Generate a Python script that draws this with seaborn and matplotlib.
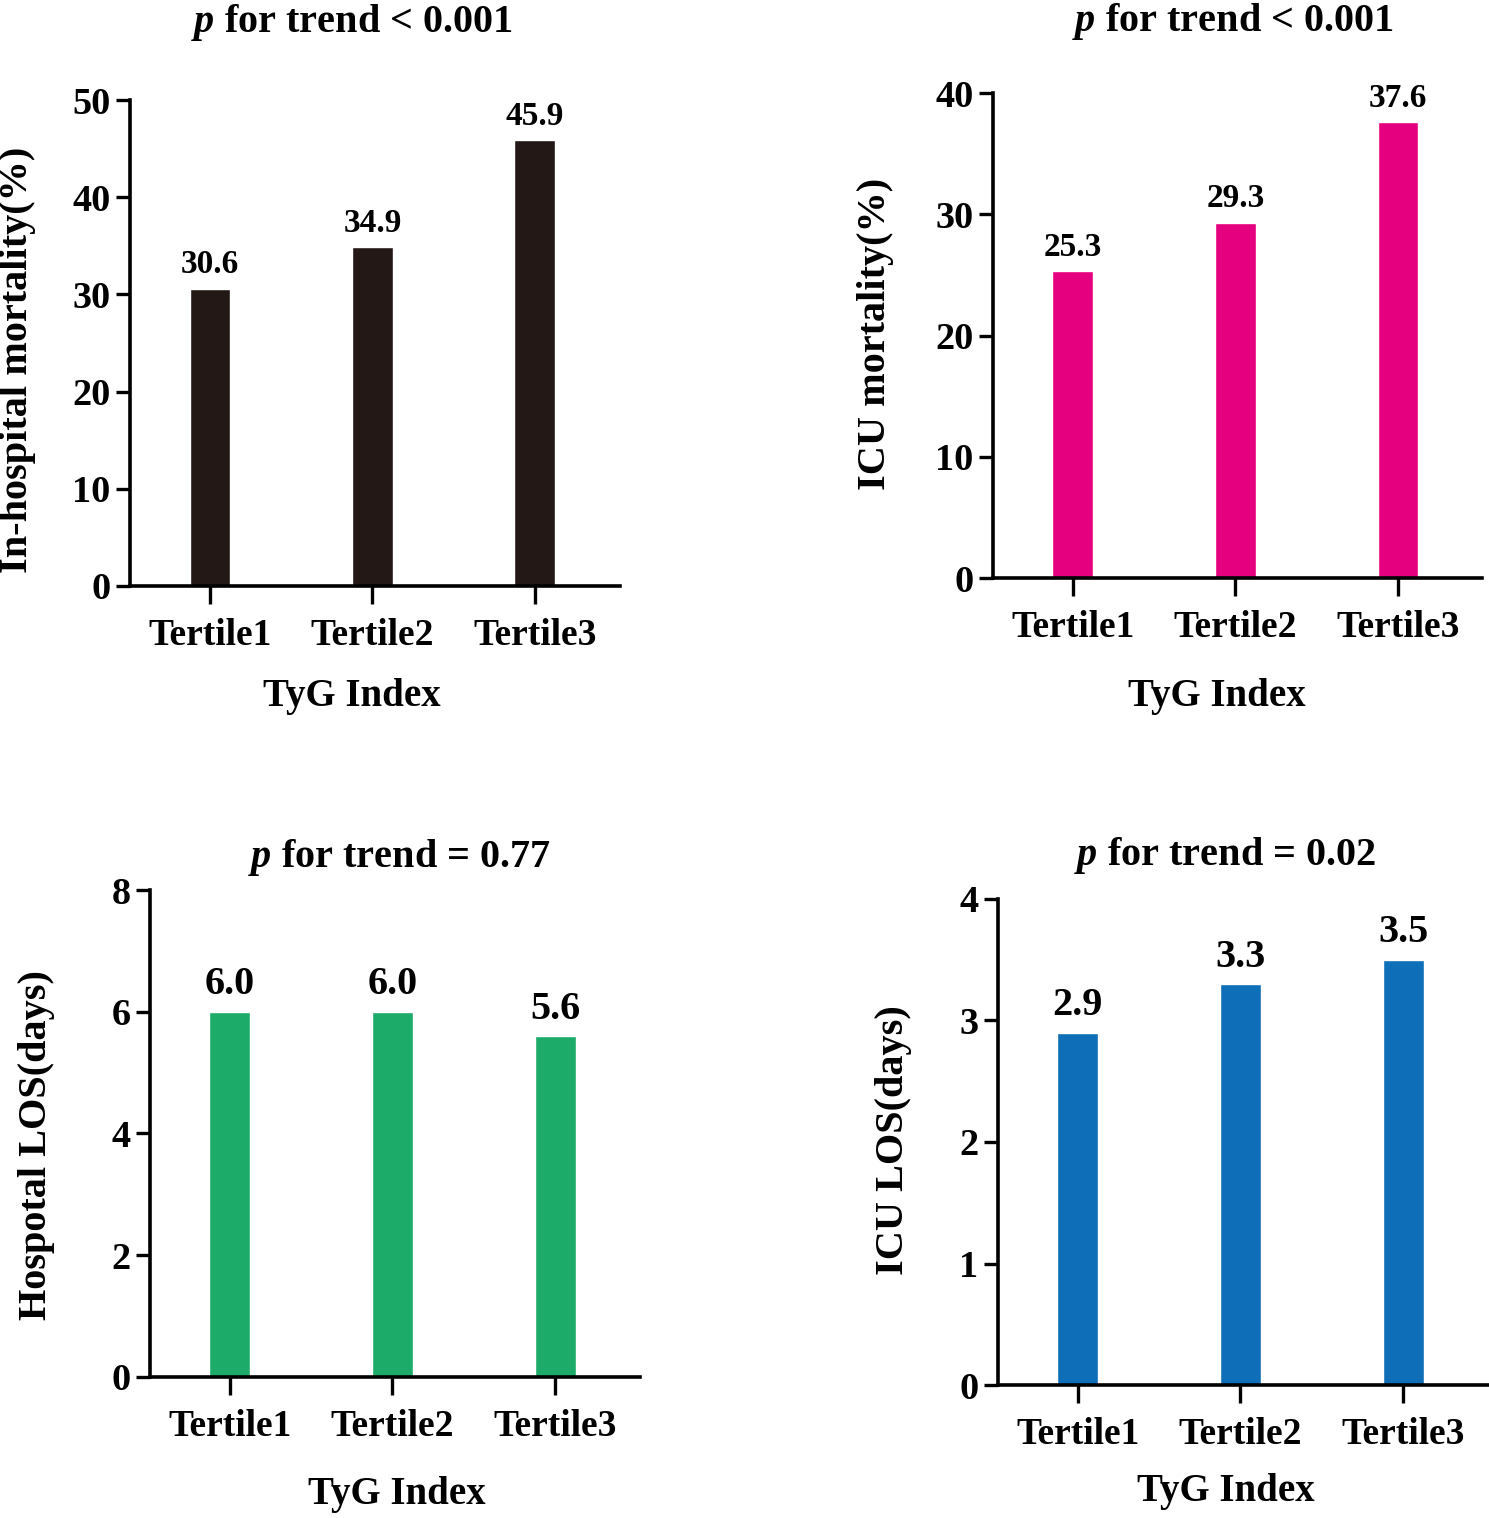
import numpy as np
import pandas as pd
import matplotlib
matplotlib.use("Agg")
import matplotlib.pyplot as plt
import seaborn as sns

tertiles = ["Tertile1", "Tertile2", "Tertile3"]

inhosp_mort = [30.6, 34.9, 45.9]
icu_mort = [25.3, 29.3, 37.6]
hosp_los = [6.0, 6.0, 5.6]
icu_los = [2.9, 3.3, 3.5]

ptexts = ["< 0.001", "< 0.001", "= 0.77", "= 0.02"]
ylabels = ["In-hospital mortality(%)", "ICU mortality(%)",
           "Hospotal LOS(days)", "ICU LOS(days)"]
colors = ["#231815", "#e4007f", "#1dab6a", "#0e6eb8"]

sns.set_theme(style="ticks")
plt.rcParams['font.family'] = ['Liberation Serif', 'DejaVu Serif']
plt.rcParams['font.weight'] = 'bold'
plt.rcParams['text.color'] = 'black'
plt.rcParams['axes.labelcolor'] = 'black'
plt.rcParams['xtick.color'] = 'black'
plt.rcParams['ytick.color'] = 'black'
plt.rcParams['mathtext.fontset'] = 'custom'
plt.rcParams['mathtext.it'] = 'Liberation Serif:italic:bold'
plt.rcParams['mathtext.rm'] = 'Liberation Serif:bold'

fig = plt.figure(figsize=(14.89, 15.18), dpi=100)

# axes rect in figure fraction, label spots in axes fraction
panels = [
    dict(rect=[0.0873, 0.614, 0.329, 0.320], vals=inhosp_mort, ymax=50, step=10,
         xlim=(-0.494, 2.525), title=(0.453, 1.16), ylab=(-0.229, 0.465),
         xlab=(0.453, -0.228), vsize=24),
    dict(rect=[0.6669, 0.6192, 0.3284, 0.3195], vals=icu_mort, ymax=40, step=10,
         xlim=(-0.49, 2.517), title=(0.491, 1.147), ylab=(-0.241, 0.503),
         xlab=(0.458, -0.245), vsize=24),
    dict(rect=[0.1007, 0.0929, 0.329, 0.3208], vals=hosp_los, ymax=8, step=2,
         xlim=(-0.49, 2.52), title=(0.51, 1.066), ylab=(-0.231, 0.476),
         xlab=(0.504, -0.242), vsize=29),
    dict(rect=[0.6702, 0.0876, 0.329, 0.3202], vals=icu_los, ymax=4, step=1,
         xlim=(-0.49, 2.52), title=(0.463, 1.09), ylab=(-0.214, 0.504),
         xlab=(0.465, -0.22), vsize=29),
]

for i, p in enumerate(panels):
    ax = fig.add_axes(p["rect"])
    df = pd.DataFrame({"group": tertiles, "value": p["vals"]})
    sns.barplot(data=df, x="group", y="value", color=colors[i], saturation=1,
                width=0.25, ax=ax)
    ax.bar_label(ax.containers[0], fmt="%.1f", padding=6,
                 fontsize=p["vsize"], fontweight='bold')
    ax.set_xlim(*p["xlim"])
    ax.set_ylim(0, p["ymax"])
    ax.set_yticks(np.arange(0, p["ymax"] + p["step"] / 2, p["step"]))
    sns.despine(ax=ax)
    for s in ["left", "bottom"]:
        ax.spines[s].set_linewidth(2.6)
        ax.spines[s].set_color("black")
    ax.tick_params(axis="y", length=10, width=2.4, labelsize=27.5, pad=4)
    ax.tick_params(axis="x", length=13, width=2.4, labelsize=27, pad=10)
    for lab in ax.get_xticklabels() + ax.get_yticklabels():
        lab.set_fontweight('bold')
    ax.set_xlabel("TyG Index", fontsize=28, fontweight='bold')
    ax.xaxis.set_label_coords(*p["xlab"])
    ax.xaxis.label.set_va('center')
    ax.set_ylabel(ylabels[i], fontsize=29, fontweight='bold')
    ax.yaxis.set_label_coords(*p["ylab"])
    ax.yaxis.label.set_va('center')
    ax.text(p["title"][0], p["title"][1], "$p$ for trend " + ptexts[i],
            transform=ax.transAxes, ha="center", va="center",
            fontsize=29, fontweight='bold')

fig.savefig("out.png", dpi=100)
